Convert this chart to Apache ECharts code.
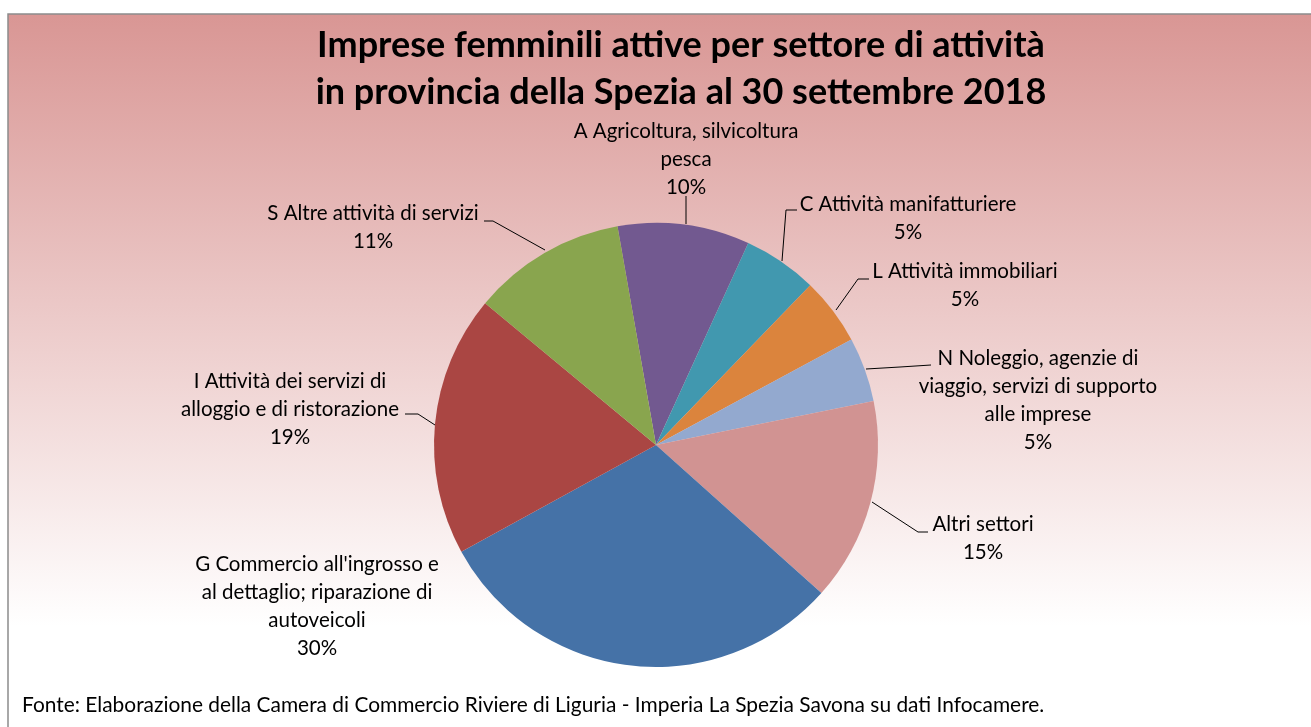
<!DOCTYPE html>
<html>
<head>
<meta charset="utf-8">
<title>Imprese femminili attive per settore</title>
<script src="https://cdn.jsdelivr.net/npm/echarts@6/dist/echarts.min.js"></script>
<style>
  html, body { margin: 0; padding: 0; background: #fff; }
  #chart { width: 1311px; height: 727px; }
</style>
</head>
<body>
<div id="chart"></div>
<script>
// settori (etichette già spezzate come nel grafico originale)
const categories = [
  'A Agricoltura, silvicoltura\npesca',
  'C Attività manifatturiere',
  'L Attività immobiliari',
  'N Noleggio, agenzie di\nviaggio, servizi di supporto\nalle imprese',
  'Altri settori',
  'G Commercio all\'ingrosso e\nal dettaglio; riparazione di\nautoveicoli',
  'I Attività dei servizi di\nalloggio e di ristorazione',
  'S Altre attività di servizi'
];
// quote percentuali stimate dal grafico
const shares = [9.6, 5.4, 4.9, 4.7, 14.8, 30.4, 19.0, 11.2];
const colors = ['#725990', '#4198af', '#db843d', '#93a9cf', '#d19392', '#4572a7', '#aa4643', '#89a54e'];

// posizione etichette e linee guida (stile, non dati)
const labelPos = [
  { x: 686, y: 159, line: [[686, 224], [686, 210], [686, 196]] },
  { x: 908, y: 218, line: [[782, 261], [786, 210], [797, 210]] },
  { x: 965, y: 285, line: [[836, 310], [858, 279], [869, 279]] },
  { x: 1038, y: 400, line: [[866, 369], [900, 367], [931, 365]] },
  { x: 983, y: 538, line: [[872, 502], [918, 532], [928, 532]] },
  { x: 317, y: 606, line: null },
  { x: 290, y: 409, line: [[435, 425], [418, 414], [405, 414]] },
  { x: 373, y: 227, line: [[545, 250], [493, 221], [484, 221]] }
];

const chart = echarts.init(document.getElementById('chart'));

chart.setOption({
  animation: false,
  textStyle: { fontFamily: 'Lato, "Noto Sans", sans-serif' },
  graphic: [
    {
      type: 'rect',
      z: -10,
      shape: { x: 8, y: 14, width: 1310, height: 720 },
      style: {
        fill: new echarts.graphic.LinearGradient(0, 0, 0, 1, [
          { offset: 0, color: '#d99694' },
          { offset: 0.85, color: '#ffffff' }
        ]),
        stroke: '#8c8c8c',
        lineWidth: 1.5
      }
    },
    {
      // titolo centrato come nell'originale
      type: 'text',
      x: 681,
      y: 22,
      style: {
        text: 'Imprese femminili attive per settore di attività\nin provincia della Spezia al 30 settembre 2018',
        align: 'center',
        fontFamily: 'Lato, sans-serif',
        fontWeight: 'bold',
        fontSize: 36,
        lineHeight: 47,
        fill: '#000'
      }
    },
    {
      type: 'text',
      left: 22,
      top: 695,
      style: {
        text: 'Fonte: Elaborazione della Camera di Commercio Riviere di Liguria - Imperia La Spezia Savona su dati Infocamere.',
        fontFamily: 'Lato, sans-serif',
        fontSize: 20.9,
        fill: '#000'
      }
    }
  ],
  series: [
    {
      type: 'pie',
      center: [656, 445],
      radius: 222,
      startAngle: 100,
      clockwise: true,
      color: colors,
      itemStyle: { borderWidth: 0 },
      label: {
        show: true,
        position: 'outside',
        color: '#000',
        fontSize: 20.5,
        lineHeight: 28,
        align: 'center',
        formatter: p => p.name + '\n' + Math.round(p.percent) + '%'
      },
      labelLine: {
        show: true,
        lineStyle: { color: '#000', width: 1 }
      },
      labelLayout: p => {
        const pos = labelPos[p.dataIndex];
        const out = { x: pos.x, y: pos.y, align: 'center', verticalAlign: 'middle' };
        if (pos.line) out.labelLinePoints = pos.line;
        return out;
      },
      data: categories.map((name, i) => ({
        name: name,
        value: shares[i],
        labelLine: { show: labelPos[i].line !== null }
      }))
    }
  ]
});
</script>
</body>
</html>
